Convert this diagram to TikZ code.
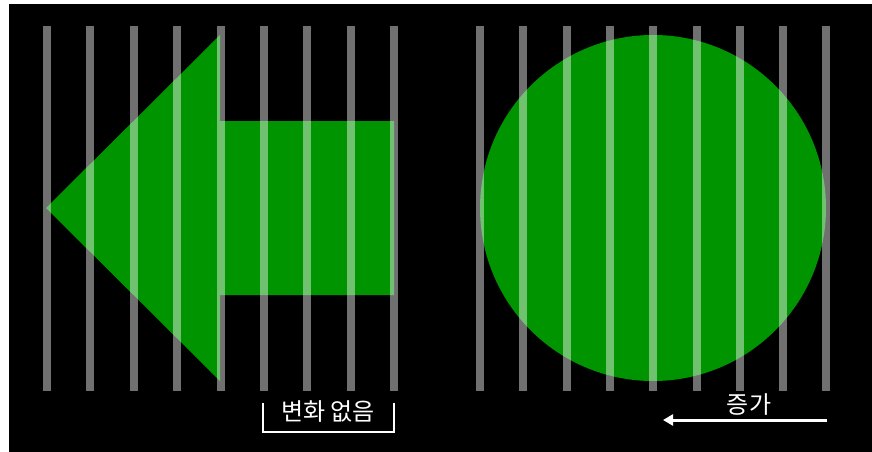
\documentclass[tikz,border=0pt]{standalone}
\usepackage{fontspec}
\newfontfamily\kr{Noto Sans CJK KR}
\usetikzlibrary{arrows.meta}
\definecolor{shapegreen}{RGB}{0,148,0}
\tikzset{
  barstyle/.style={fill=white, fill opacity=0.44, draw=none},
  shapestyle/.style={fill=shapegreen, draw=none},
  labelstyle/.style={text=white, font=\kr\fontsize{24}{27}\selectfont, inner sep=0pt},
  markline/.style={draw=white, line width=2pt}
}
\begin{document}
\begin{tikzpicture}[x=1pt,y=-1pt]
\useasboundingbox (0,0) rectangle (872,452);
\fill[white] (0,0) rectangle (872,452);
\fill[black] (9,4) rectangle (872,452);
% arrow shape
\fill[shapestyle] (46,208) -- (220,35) -- (220,121) -- (394,121) -- (394,295) -- (220,295) -- (220,381) -- cycle;
% circle
\node[shapestyle, circle, minimum size=346pt, inner sep=0pt] (circ) at (653,208) {};
% bars
\foreach \cx in {47,90.4,133.8,177.2,220.6,264,307.4,350.8,394.2,
                 480,523.3,566.6,609.9,653.2,696.5,739.8,783.1,826.4}{
  \fill[barstyle] (\cx-4,26) rectangle (\cx+4,391);
}
% bracket label
\node[labelstyle] (nochange) at (328,412) {변화 없음};
\coordinate (bl1) at (263,403);
\coordinate (bl2) at (263,432);
\coordinate (br2) at (394,432);
\coordinate (br1) at (394,403);
\draw[markline] (bl1) -- (bl2) -- (br2) -- (br1);
% increase arrow
\node[labelstyle] (incr) at (749,404) {증가};
\coordinate (astart) at (827,420);
\coordinate (aend) at (663,420);
\draw[draw=white, line width=3pt, -{Triangle[length=10pt,width=11pt]}] (astart) -- (aend);
\end{tikzpicture}
\end{document}
